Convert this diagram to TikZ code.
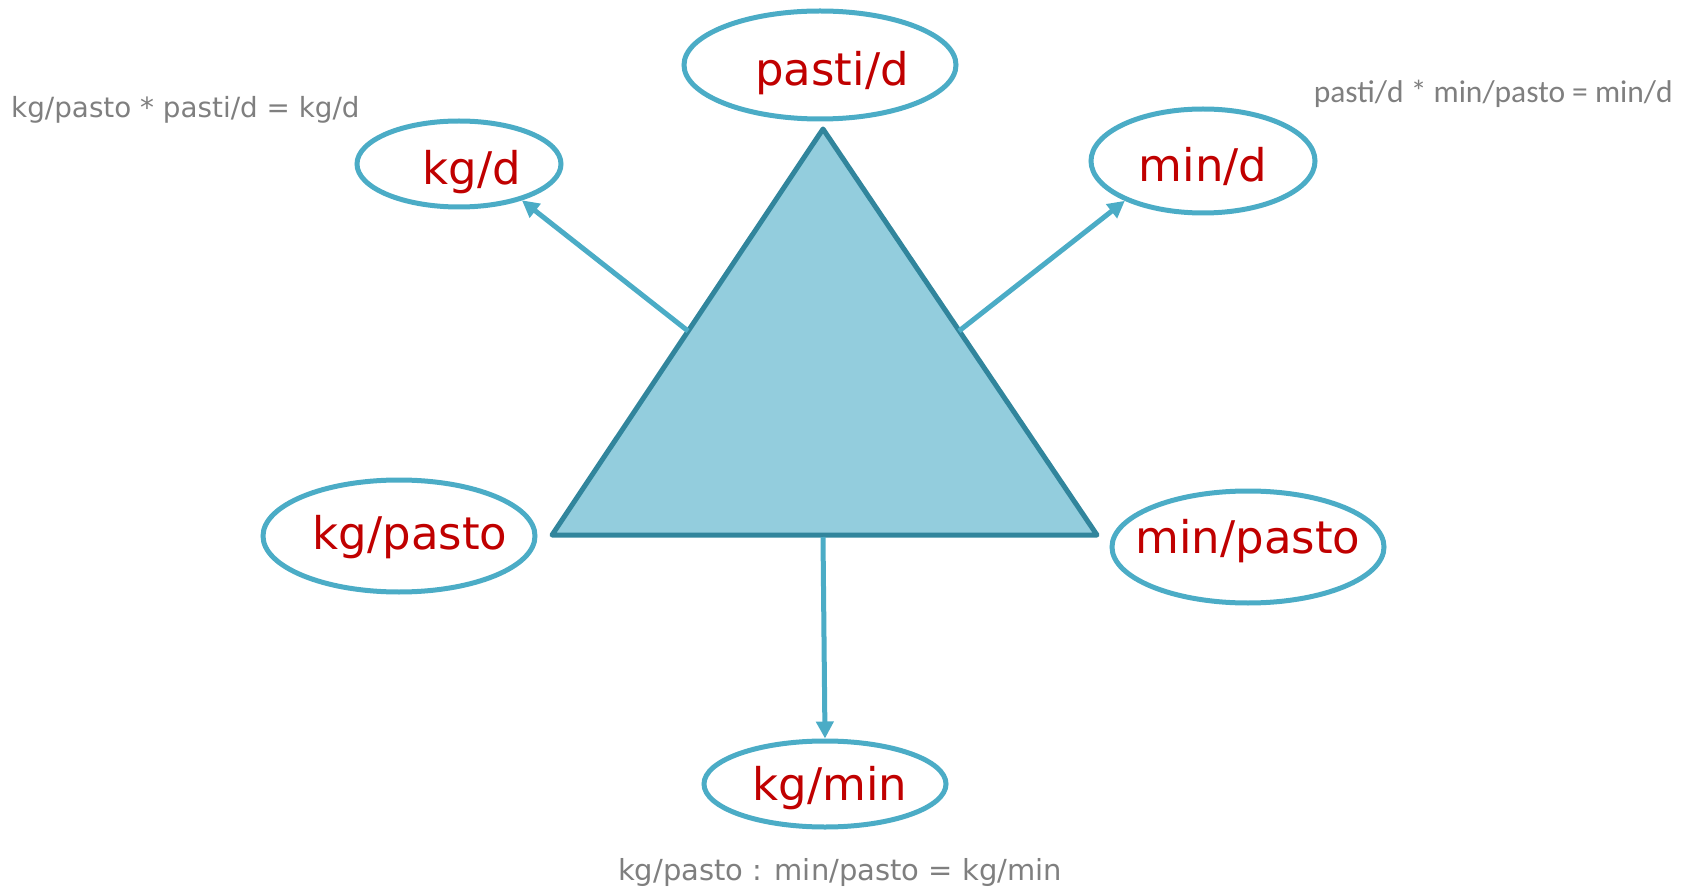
\documentclass[tikz,border=0pt]{standalone}
\usepackage{fontspec}
\setmainfont{DejaVu Sans}
\newfontfamily\calibrifont{Carlito}
\usetikzlibrary{shapes.geometric,arrows.meta}
\definecolor{ringblue}{HTML}{4BACC6}
\definecolor{trifill}{HTML}{93CDDD}
\definecolor{triline}{HTML}{31859C}
\definecolor{unitred}{HTML}{C00000}
\definecolor{notegray}{HTML}{7F7F7F}
\begin{document}
\begin{tikzpicture}[x=1pt, y=-1pt,
    unit/.style ={ellipse, draw=ringblue, line width=5pt, inner xsep=-40pt, inner ysep=-20pt,
      text=unitred, text height=50pt, text depth=8pt, font=\fontsize{45}{48}\selectfont},
    link/.style ={draw=ringblue, line width=5pt,
      -{Triangle[length=17pt,width=17pt]}},
    note/.style ={text=notegray, inner sep=0pt}]
   \useasboundingbox (0,0) rectangle (1692,890);

   % triangle
   \coordinate (T) at (823,129);
   \coordinate (L) at (552,535);
   \coordinate (R) at (1097,535);
   \draw[fill=trifill, draw=triline, line width=5pt, line join=round] (T) -- (L) -- (R) -- cycle;
   \coordinate (TL) at (688,331);
   \coordinate (TR) at (959,331);
   \coordinate (TB) at (823,537);

   \node[unit, minimum width=272pt, minimum height=108pt] (P)  at (820,65)  {\hspace{24pt}pasti/d};
   \node[unit, minimum width=204pt, minimum height=86pt]  (KD) at (459,164) {\hspace{26pt}kg/d};
   \node[unit, minimum width=224pt, minimum height=104pt] (MD) at (1203,161) {min/d};
   \node[unit, minimum width=272pt, minimum height=112pt, text height=34pt] (KP) at (399,536) {\hspace{22pt}kg/pasto};
   \node[unit, minimum width=272pt, minimum height=112pt, text height=40pt, text depth=28pt] (MP) at (1248,547) {min/pasto};
   \node[unit, minimum width=242pt, minimum height=86pt, text height=40pt]  (KM) at (825,784) {\hspace{10pt}kg/min};

   \draw[link] (TL) to (KD.-30);
   \draw[link] (TR) to (MD.-153);
   \draw[link] (TB) to (KM.north);

   \node[note, anchor=west, font=\fontsize{27.8}{30}\selectfont] (N1) at (11,110) {kg/pasto * pasti/d = kg/d};
   \node[note, anchor=east, font=\calibrifont\fontsize{31.5}{34}\selectfont] (N2) at (1673,94) {pasti/d * min/pasto = min/d};
   \node[note, font=\fontsize{29}{32}\selectfont] (N3) at (840,872) {kg/pasto : min/pasto = kg/min};
 \end{tikzpicture}
\end{document}
